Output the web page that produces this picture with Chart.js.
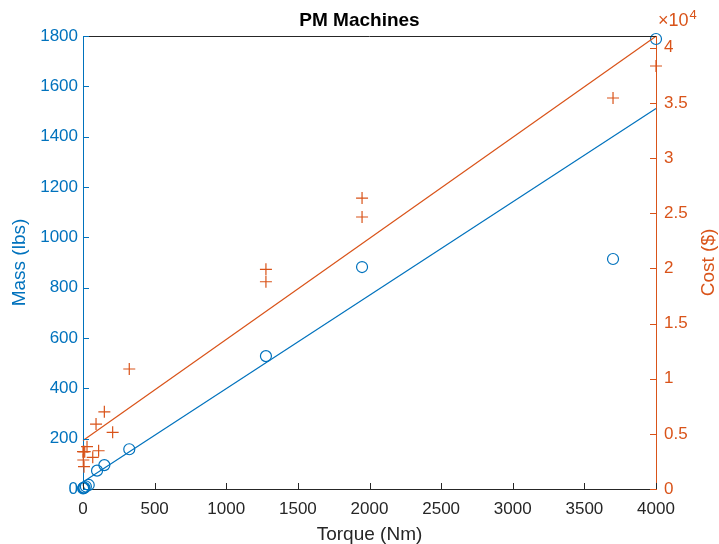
<!DOCTYPE html>
<html><head><meta charset="utf-8">
<script src="https://cdn.jsdelivr.net/npm/chart.js@4"></script>
<style>html,body{margin:0;padding:0;background:#fff}</style>
</head><body>
<canvas id="c" width="719" height="544"></canvas>
<script>
// ---- data ----
const massTorque = [1, 3, 5, 10, 20, 40, 98, 149, 323, 1277, 1948, 3700, 4000];
const mass       = [2, 4, 6, 5, 10, 16, 73, 95, 158, 528, 882, 914, 1788];
const costTorque = [0, 5, 12, 28, 2, 7, 68, 109, 91, 149, 207, 323, 1277, 1277, 1948, 1948, 3700, 4000];
const cost       = [3380, 3380, 3380, 3840, 2630, 2020, 2870, 3470, 5890, 7000, 5140, 10880, 19920, 18790, 26380, 24660, 35450, 38350];
const fitTorque  = [0, 4000];
const massFit    = [28, 1512];
const costFit    = [4400, 41040];
const xTickValues    = [0, 500, 1000, 1500, 2000, 2500, 3000, 3500, 4000];
const massTickValues = [0, 200, 400, 600, 800, 1000, 1200, 1400, 1600, 1800];
const costTickValues = [0, 5000, 10000, 15000, 20000, 25000, 30000, 35000, 40000];
const costTickLabels = ['0', '0.5', '1', '1.5', '2', '2.5', '3', '3.5', '4'];

const BLUE = '#0072BD', ORANGE = '#D95319', DARK = '#262626';
const FONT = "'Liberation Sans', Arial, Helvetica, sans-serif";

const pts = (xs, ys) => xs.map((x, i) => ({x: x, y: ys[i]}));

const inwardTicks = {
  id: 'inwardTicks',
  afterDraw(chart) {
    const ctx = chart.ctx, a = chart.chartArea;
    const sx = chart.scales.x, sy = chart.scales.y, sy1 = chart.scales.y1;
    const L = 6;
    ctx.save();
    ctx.lineWidth = 1;
    ctx.strokeStyle = DARK;
    ctx.beginPath();
    ctx.moveTo(a.left, Math.round(a.top) + 0.5);
    ctx.lineTo(a.right, Math.round(a.top) + 0.5);
    ctx.stroke();
    ctx.beginPath();
    sx.ticks.forEach(t => {
      const p = Math.round(sx.getPixelForValue(t.value)) + 0.5;
      ctx.moveTo(p, a.bottom); ctx.lineTo(p, a.bottom - L);
    });
    ctx.stroke();
    ctx.strokeStyle = BLUE;
    ctx.beginPath();
    sy.ticks.forEach(t => {
      const p = Math.round(sy.getPixelForValue(t.value)) + 0.5;
      ctx.moveTo(a.left, p); ctx.lineTo(a.left + L, p);
    });
    ctx.stroke();
    ctx.strokeStyle = ORANGE;
    ctx.beginPath();
    sy1.ticks.forEach(t => {
      const p = Math.round(sy1.getPixelForValue(t.value)) + 0.5;
      ctx.moveTo(a.right, p); ctx.lineTo(a.right - L, p);
    });
    ctx.stroke();
    ctx.fillStyle = ORANGE;
    ctx.font = '19px ' + FONT;
    ctx.textAlign = 'center';
    ctx.textBaseline = 'middle';
    ctx.translate(709, (a.top + a.bottom) / 2);
    ctx.rotate(-Math.PI / 2);
    ctx.fillText('Cost ($)', 0, 0);
    ctx.restore();
    ctx.save();
    ctx.fillStyle = ORANGE;
    ctx.textAlign = 'left';
    ctx.textBaseline = 'middle';
    ctx.font = '18px ' + FONT;
    ctx.fillText('\u00d710', 658, 21);
    const w = ctx.measureText('\u00d710').width;
    ctx.font = '13px ' + FONT;
    ctx.fillText('4', 658 + w + 1, 15);
    ctx.restore();
  }
};

new Chart(document.getElementById('c'), {
  type: 'scatter',
  data: {
    datasets: [
      { data: pts(fitTorque, massFit), yAxisID: 'y', showLine: true, pointRadius: 0,
        borderColor: BLUE, borderWidth: 1.2, fill: false, clip: false },
      { data: pts(fitTorque, costFit), yAxisID: 'y1', showLine: true, pointRadius: 0,
        borderColor: ORANGE, borderWidth: 1.2, fill: false, clip: false },
      { data: pts(massTorque, mass), yAxisID: 'y', pointStyle: 'circle', pointRadius: 5.5,
        borderColor: BLUE, backgroundColor: 'rgba(0,0,0,0)', pointBorderWidth: 1.2, clip: false },
      { data: pts(costTorque, cost), yAxisID: 'y1', pointStyle: 'cross', pointRadius: 6,
        borderColor: ORANGE, backgroundColor: ORANGE, pointBorderWidth: 1.2, clip: false }
    ]
  },
  options: {
    responsive: false,
    animation: false,
    devicePixelRatio: 1,
    events: [],
    layout: { padding: 0 },
    plugins: {
      legend: { display: false },
      tooltip: { enabled: false },
      title: { display: true, text: 'PM Machines', color: '#000',
        font: { family: FONT, size: 19, weight: 'bold' }, padding: { top: 9, bottom: 4.2 } }
    },
    scales: {
      x: {
        type: 'linear', position: 'bottom', min: 0, max: 4000,
        afterBuildTicks: s => { s.ticks = xTickValues.map(v => ({value: v})); },
        afterFit: s => { s.height = 55; },
        grid: { display: false, drawTicks: false },
        border: { display: true, color: DARK, width: 1 },
        ticks: { color: DARK, font: { family: FONT, size: 17 }, padding: 10, maxRotation: 0, autoSkip: false,
          callback: (v, i) => String(xTickValues[i]) },
        title: { display: true, text: 'Torque (Nm)', color: DARK,
          font: { family: FONT, size: 19, lineHeight: 1 }, padding: 0 }
      },
      y: {
        type: 'linear', position: 'left', min: 0, max: 1800,
        afterBuildTicks: s => { s.ticks = massTickValues.map(v => ({value: v})); },
        afterFit: s => { s.width = 83; },
        grid: { display: false, drawTicks: false },
        border: { display: true, color: BLUE, width: 1 },
        ticks: { color: BLUE, font: { family: FONT, size: 17 }, padding: 5, autoSkip: false,
          callback: (v, i) => String(massTickValues[i]) },
        title: { display: true, text: 'Mass (lbs)', color: BLUE,
          font: { family: FONT, size: 19, lineHeight: 1 }, padding: { top: 10.5, bottom: 0 } }
      },
      y1: {
        type: 'linear', position: 'right', min: 0, max: 41070,
        afterBuildTicks: s => { s.ticks = costTickValues.map(v => ({value: v})); },
        afterFit: s => { s.width = 63; },
        grid: { display: false, drawTicks: false },
        border: { display: true, color: ORANGE, width: 1 },
        ticks: { color: ORANGE, font: { family: FONT, size: 17 }, padding: 8, autoSkip: false,
          callback: (v, i) => costTickLabels[i] },
        title: { display: false }
      }
    }
  },
  plugins: [inwardTicks]
});
</script>
</body></html>
